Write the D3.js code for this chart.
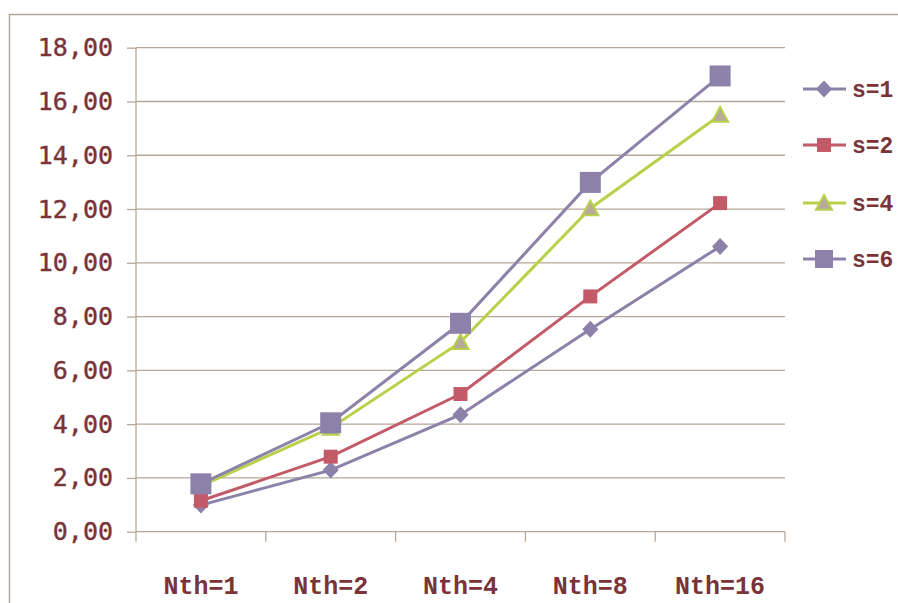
<!DOCTYPE html>
<html>
<head>
<meta charset="utf-8">
<script src="https://cdn.jsdelivr.net/npm/d3@7"></script>
<style>
  html, body { margin: 0; padding: 0; background: #fff; }
  svg { display: block; }
</style>
</head>
<body>
<svg id="chart" width="898" height="603"></svg>
<script>
// Speedup per thread count, one series per s value
const categories = ["Nth=1", "Nth=2", "Nth=4", "Nth=8", "Nth=16"];
const seriesNames = ["s=1", "s=2", "s=4", "s=6"];
const s1 = [0.99, 2.29, 4.35, 7.53, 10.61];
const s2 = [1.15, 2.79, 5.12, 8.75, 12.22];
const s4 = [1.70, 3.86, 7.05, 12.02, 15.50];
const s6 = [1.78, 4.05, 7.75, 12.99, 16.95];
const yTicks = [0, 2, 4, 6, 8, 10, 12, 14, 16, 18];

const styles = [
  { color: "#8c81a8", fill: "#8c81a8", shape: "diamond", size: 17 },
  { color: "#c25a68", fill: "#c25a68", shape: "square", size: 14 },
  { color: "#b8d14a", fill: "#b9a99b", shape: "triangle", size: 16 },
  { color: "#8c81a8", fill: "#8c81a8", shape: "square", size: 21 }
];
const seriesValues = [s1, s2, s4, s6];

const svg = d3.select("#chart");
const axisColor = "#b7a797";
const textColor = "#7a3337";

// outer frame
svg.append("rect")
  .attr("x", 9.5).attr("y", 14.5)
  .attr("width", 1000).attr("height", 1000)
  .attr("fill", "none").attr("stroke", axisColor).attr("stroke-width", 1.5);

const plot = { left: 136, right: 785, top: 47.7, bottom: 531.7 };

const x = d3.scaleBand().domain(categories).range([plot.left, plot.right]).padding(0);
const y = d3.scaleLinear().domain([0, 18]).range([plot.bottom, plot.top]);

// horizontal gridlines
svg.append("g").selectAll("line").data(yTicks.filter(d => d > 0)).join("line")
  .attr("x1", plot.left).attr("x2", plot.right)
  .attr("y1", d => y(d)).attr("y2", d => y(d))
  .attr("stroke", axisColor).attr("stroke-width", 1.3);

// y axis
const yAxis = d3.axisLeft(y).tickValues(yTicks).tickSize(9).tickPadding(14)
  .tickFormat(d => d3.format(".2f")(d).replace(".", ","));
const gy = svg.append("g").attr("transform", `translate(${plot.left},0)`).call(yAxis);
gy.select(".domain").attr("stroke", axisColor).attr("stroke-width", 1.3).attr("d", `M0,${plot.top}V${plot.bottom}`);
gy.selectAll(".tick line").attr("stroke", axisColor).attr("stroke-width", 1.3);
gy.selectAll(".tick text")
  .attr("fill", textColor)
  .attr("stroke", textColor).attr("stroke-width", 0.4)
  .style("font-family", "'DejaVu Sans Mono', monospace")
  .style("font-size", "25px");

// x axis: ticks on category boundaries
svg.append("line")
  .attr("x1", plot.left).attr("x2", plot.right)
  .attr("y1", plot.bottom).attr("y2", plot.bottom)
  .attr("stroke", axisColor).attr("stroke-width", 1.3);
const boundaries = categories.map(c => x(c)).concat([plot.right]);
svg.append("g").selectAll("line").data(boundaries).join("line")
  .attr("x1", d => d).attr("x2", d => d)
  .attr("y1", plot.bottom).attr("y2", plot.bottom + 10)
  .attr("stroke", axisColor).attr("stroke-width", 1.3);
svg.append("g").selectAll("text").data(categories).join("text")
  .attr("x", d => x(d) + x.bandwidth() / 2)
  .attr("y", 594)
  .attr("text-anchor", "middle")
  .attr("fill", textColor)
  .style("font-family", "'Liberation Mono', 'DejaVu Sans Mono', monospace")
  .style("font-weight", "bold")
  .style("font-size", "25px")
  .text(d => d);

function markerPath(shape, s) {
  const h = s / 2;
  if (shape === "diamond") return `M0,${-h}L${h * 0.95},0L0,${h}L${-h * 0.95},0Z`;
  if (shape === "triangle") return `M0,${-h}L${h},${h * 0.85}L${-h},${h * 0.85}Z`;
  return `M${-h},${-h}H${h}V${h}H${-h}Z`;
}

const line = d3.line().x((d, i) => x(categories[i]) + x.bandwidth() / 2).y(d => y(d));

seriesValues.forEach((vals, k) => {
  const st = styles[k];
  const g = svg.append("g");
  g.append("path").datum(vals)
    .attr("d", line).attr("fill", "none")
    .attr("stroke", st.color).attr("stroke-width", 3);
  g.selectAll("path.m").data(vals).join("path").attr("class", "m")
    .attr("transform", (d, i) => `translate(${x(categories[i]) + x.bandwidth() / 2},${y(d)})`)
    .attr("d", markerPath(st.shape, st.size))
    .attr("fill", st.fill)
    .attr("stroke", st.shape === "triangle" ? st.color : "none")
    .attr("stroke-width", 2);
});

// legend
const legendY = [89, 145, 203, 259];
const lg = svg.append("g");
seriesNames.forEach((name, k) => {
  const st = styles[k];
  const ly = legendY[k];
  lg.append("line").attr("x1", 803).attr("x2", 846).attr("y1", ly).attr("y2", ly)
    .attr("stroke", st.color).attr("stroke-width", 3);
  lg.append("path")
    .attr("transform", `translate(824,${ly})`)
    .attr("d", markerPath(st.shape, k === 3 ? 18 : st.size))
    .attr("fill", st.fill)
    .attr("stroke", st.shape === "triangle" ? st.color : "none")
    .attr("stroke-width", 2);
  lg.append("text").attr("x", 852).attr("y", ly).attr("dy", "0.35em")
    .attr("fill", textColor)
    .style("font-family", "'Liberation Mono', 'DejaVu Sans Mono', monospace")
    .style("font-weight", "bold")
    .style("font-size", "23px")
    .text(name);
});
</script>
</body>
</html>
